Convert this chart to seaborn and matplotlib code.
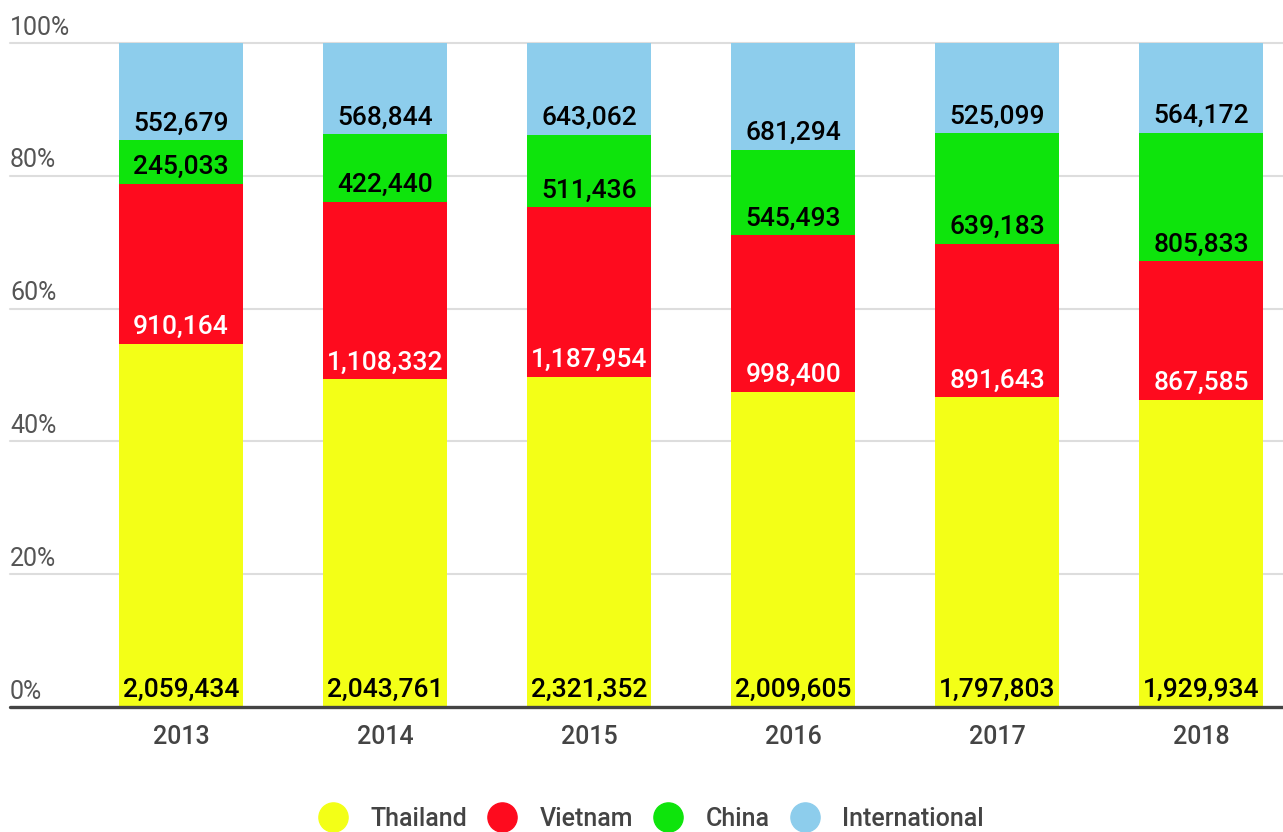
import matplotlib
matplotlib.use("Agg")
import matplotlib.pyplot as plt
from matplotlib.lines import Line2D
import numpy as np
import pandas as pd
import seaborn as sns

years = ["2013", "2014", "2015", "2016", "2017", "2018"]
thailand = [2059434, 2043761, 2321352, 2009605, 1797803, 1929934]
vietnam = [910164, 1108332, 1187954, 998400, 891643, 867585]
china = [245033, 422440, 511436, 545493, 639183, 805833]
international = [552679, 568844, 643062, 681294, 525099, 564172]

series_names = ["Thailand", "Vietnam", "China", "International"]
series_values = [thailand, vietnam, china, international]
colors = ["#F3FF17", "#FE0B1E", "#0EE40C", "#8DCDEC"]
label_colors = ["black", "white", "black", "black"]

sns.set_theme(style="white")
plt.rcParams["font.family"] = ["Roboto", "DejaVu Sans"]

vals = np.array(series_values, dtype=float)
totals = vals.sum(axis=0)
pct = vals / totals * 100
cum = np.cumsum(pct, axis=0)
bottoms = cum - pct

fig = plt.figure(figsize=(12.83, 8.32), dpi=100)
ax = fig.add_axes([10 / 1283, 125 / 832, 1273 / 1283, 664 / 832])

# gridlines
for v in [20, 40, 60, 80, 100]:
    ax.axhline(v, color="#dddddd", lw=1.5, zorder=0, clip_on=False)

# layered bars (top-most cumulative first)
for k in range(len(series_names) - 1, -1, -1):
    df = pd.DataFrame({"year": years, "value": cum[k]})
    sns.barplot(data=df, x="year", y="value", order=years, color=colors[k],
                saturation=1, width=0.608, linewidth=0, errorbar=None, ax=ax,
                zorder=2)

# value labels at the base of each segment
for k in range(len(series_names)):
    for i in range(len(years)):
        ax.annotate(f"{int(vals[k, i]):,}", xy=(i, bottoms[k, i]),
                    xytext=(0, 7), textcoords="offset points",
                    ha="center", va="baseline", fontsize=19,
                    color=label_colors[k], fontweight="medium", zorder=5)

ax.axhline(0, color="#444444", lw=2.4, zorder=4, clip_on=False)

ax.set_xlim(-0.838, 5.40)
ax.set_ylim(0, 100)
ax.set_yticks([])
ax.set_xlabel("")
ax.set_ylabel("")
ax.tick_params(axis="x", length=0, pad=13, labelsize=18, labelcolor="#444444")
for lbl in ax.get_xticklabels():
    lbl.set_fontweight("medium")
for s in ax.spines.values():
    s.set_visible(False)

for v in [0, 20, 40, 60, 80, 100]:
    ax.annotate(f"{v}%", xy=(0, v), xycoords=("axes fraction", "data"),
                xytext=(0, 6), textcoords="offset points",
                ha="left", va="baseline", fontsize=18, color="#555555")

handles = [Line2D([0], [0], marker="o", linestyle="", markersize=21,
                  markerfacecolor=c, markeredgecolor=c) for c in colors]
leg = fig.legend(handles, series_names, loc="center", ncol=4,
                 bbox_to_anchor=(652 / 1283, 13 / 832), frameon=False, fontsize=18,
                 labelcolor="#444444", handlelength=1.0, handletextpad=1.0,
                 columnspacing=0.9)
for t in leg.get_texts():
    t.set_fontweight("medium")

fig.savefig("out.png", dpi=100)
